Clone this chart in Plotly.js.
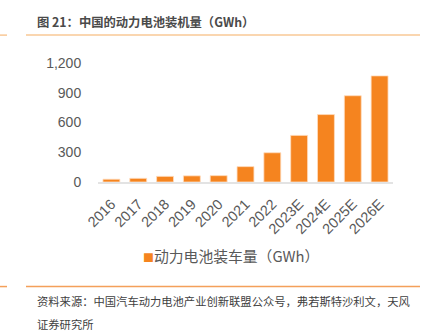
<!DOCTYPE html>
<html>
<head>
<meta charset="utf-8">
<script src="https://cdn.plot.ly/plotly-3.0.1.min.js"></script>
<style>html,body{margin:0;padding:0;background:#fff;}#chart{width:427px;height:332px;}</style>
</head>
<body>
<div id="chart"></div>
<script>
const years = ['2016','2017','2018','2019','2020','2021','2022','2023E','2024E','2025E','2026E'];
const installed = [28, 37, 57, 62, 64, 155, 295, 470, 680, 870, 1070];
const seriesName = '动力电池装车量（GWh）';
const yTickVals = [0, 300, 600, 900, 1200];
const yTickText = ['0', '300', '600', '900', '1,200'];
const chartTitle = '图 21：中国的动力电池装机量（GWh）';
const sourceLine1 = '资料来源：中国汽车动力电池产业创新联盟公众号，弗若斯特沙利文，天风';
const sourceLine2 = '证券研究所';

const W = 427, H = 332;
const L = 98, R = 393, T = 63, B = 182.5;
const px = x => (x - L) / (R - L);
const py = y => (B - y) / (B - T);
const font = 'Liberation Sans, Arial, Noto Sans CJK SC, sans-serif';
const orange = '#f5841f';

const trace = {
  type: 'bar', x: years, y: installed, name: seriesName,
  marker: {color: orange, line: {color: 'rgba(255,220,190,0.8)', width: 1}},
  showlegend: false, hoverinfo: 'none'
};

const layout = {
  width: W, height: H,
  margin: {l: L, r: W - R, t: T, b: H - B, pad: 0},
  paper_bgcolor: '#fff', plot_bgcolor: '#fff',
  bargap: 0.37,
  font: {family: font, color: '#595959'},
  xaxis: {
    type: 'category', tickangle: -45, tickfont: {size: 14.5, color: '#595959'},
    showgrid: false, showline: true, linecolor: '#e3e3e3', linewidth: 2,
    ticks: 'outside', ticklen: 6, tickcolor: 'rgba(0,0,0,0)', fixedrange: true
  },
  yaxis: {
    range: [0, 1200], tickvals: yTickVals, ticktext: yTickText,
    tickfont: {size: 14, color: '#595959'}, showgrid: false, zeroline: false,
    showline: false, ticks: 'outside', ticklen: 13, tickcolor: 'rgba(0,0,0,0)', fixedrange: true
  },
  shapes: [
    {type: 'line', xref: 'paper', yref: 'paper', x0: px(26), x1: px(420), y0: py(35), y1: py(35), line: {color: '#f9c896', width: 1.5}},
    {type: 'line', xref: 'paper', yref: 'paper', x0: px(0), x1: px(7), y0: py(35), y1: py(35), line: {color: '#f9c896', width: 1.5}},
    {type: 'line', xref: 'paper', yref: 'paper', x0: px(26), x1: px(420), y0: py(287.5), y1: py(287.5), line: {color: '#f4a05a', width: 1.5}},
    {type: 'line', xref: 'paper', yref: 'paper', x0: px(0), x1: px(7), y0: py(287.5), y1: py(287.5), line: {color: '#f4a05a', width: 1.5}}
  ],
  annotations: [
    {xref: 'paper', yref: 'paper', x: px(35), y: py(22), xanchor: 'left', yanchor: 'middle', showarrow: false,
     text: '<b>' + chartTitle + '</b>', font: {family: 'Noto Sans CJK SC, sans-serif', size: 12.3, color: '#4a4a4a'}},
    {xref: 'paper', yref: 'paper', x: px(141), y: py(256), xanchor: 'left', yanchor: 'middle', showarrow: false,
     text: '<span style="color:' + orange + ';font-size:11px">■</span>' + seriesName,
     font: {family: 'Noto Sans CJK SC, sans-serif', size: 14.8, color: '#595959'}},
    {xref: 'paper', yref: 'paper', x: px(35), y: py(302), xanchor: 'left', yanchor: 'middle', showarrow: false,
     text: sourceLine1, font: {family: 'Noto Sans CJK SC, sans-serif', size: 11.3, color: '#404040'}},
    {xref: 'paper', yref: 'paper', x: px(35), y: py(325), xanchor: 'left', yanchor: 'middle', showarrow: false,
     text: sourceLine2, font: {family: 'Noto Sans CJK SC, sans-serif', size: 11.3, color: '#404040'}}
  ]
};

Plotly.newPlot('chart', [trace], layout, {displayModeBar: false, staticPlot: true});
</script>
</body>
</html>
